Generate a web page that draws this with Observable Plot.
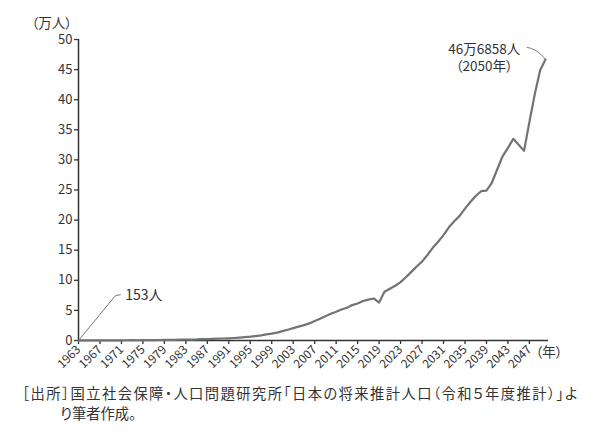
<!DOCTYPE html>
<html><head><meta charset="utf-8">
<script src="https://cdn.jsdelivr.net/npm/d3@7"></script>
<script src="https://cdn.jsdelivr.net/npm/@observablehq/plot@0.6"></script>
<style>
body{margin:0;background:#fff;font-family:"Noto Sans CJK JP",sans-serif;font-feature-settings:"palt";}
#chart{width:600px;}
#chart svg{font-feature-settings:"palt";}
.caption{font-size:14.3px;color:#333;line-height:20px;margin-top:5px;white-space:nowrap}
.caption .l1{padding-left:22px}
.caption .l2{padding-left:60px}
</style></head><body>
<div id="chart"></div>
<div class="caption"><div class="l1"><span id="c1">［出所］国立社会保障・人口問題研究所「日本の将来推計人口（令和５年度推計）」よ</span></div><div class="l2">り筆者作成。</div></div>
<script>
// Years 1963–2050
const years = [1963,1964,1965,1966,1967,1968,1969,1970,1971,1972,1973,1974,1975,1976,1977,1978,1979,1980,1981,1982,1983,1984,1985,1986,1987,1988,1989,1990,1991,1992,1993,1994,1995,1996,1997,1998,1999,2000,2001,2002,2003,2004,2005,2006,2007,2008,2009,2010,2011,2012,2013,2014,2015,2016,2017,2018,2019,2020,2021,2022,2023,2024,2025,2026,2027,2028,2029,2030,2031,2032,2033,2034,2035,2036,2037,2038,2039,2040,2041,2042,2043,2044,2045,2046,2047,2048,2049,2050];
// Centenarians (万人)
const values = [0.015,0.019,0.020,0.025,0.025,0.033,0.035,0.031,0.034,0.041,0.050,0.043,0.055,0.067,0.070,0.080,0.094,0.097,0.107,0.135,0.135,0.157,0.174,0.218,0.227,0.267,0.308,0.330,0.363,0.415,0.480,0.559,0.638,0.737,0.849,1.016,1.135,1.304,1.548,1.793,2.056,2.304,2.555,2.840,3.230,3.628,4.040,4.445,4.776,5.138,5.440,5.882,6.157,6.569,6.782,6.979,6.3,8.1,8.6,9.1,9.7,10.5,11.4,12.3,13.1,14.2,15.4,16.4,17.5,18.8,19.8,20.7,21.9,23.0,24.0,24.8,24.9,26.2,28.4,30.6,32.0,33.5,32.5,31.5,36.3,40.9,44.9,46.69];
const xTicks = [1963,1967,1971,1975,1979,1983,1987,1991,1995,1999,2003,2007,2011,2015,2019,2023,2027,2031,2035,2039,2043,2047];
const yTicks = [0,5,10,15,20,25,30,35,40,45,50];
const yUnit = "（万人）";
const xUnit = "（年）";
const startLabel = "153人";
const endLabel = "46万6858人\n（2050年）";
// annotation anchors (data units)
const startLeader = [{year:1963,value:0},{year:1969.9,value:7.47},{year:1970.8,value:7.6}];
const endLeader = [{year:2046.6,value:48.7},{year:2048.5,value:48.2},{year:2050,value:46.69}];
const startText = [{year:1971.7,value:7.55,label:startLabel}];
const endText = [{year:2038.6,value:47.1,label:endLabel}];

const data = years.map((y,i)=>({year:y,value:values[i]}));
const ink = "#333";
const chart = Plot.plot({
  width:600, height:378,
  marginLeft:78, marginRight:55, marginTop:39, marginBottom:38,
  style:{fontFamily:'"Noto Sans CJK JP", sans-serif', color:ink, background:"#fff", overflow:"visible"},
  x:{domain:[1963,2050], label:null},
  y:{domain:[0,50], label:null},
  marks:[
    Plot.axisY({ticks:yTicks, tickSize:4, tickPadding:2, fontSize:13, stroke:ink, strokeWidth:1.3, label:null}),
    Plot.axisX({ticks:xTicks, tickSize:4, tickPadding:3, tickRotate:-45, fontSize:12, tickFormat:d=>String(d), stroke:ink, strokeWidth:1.3, label:null}),
    Plot.ruleX([1963], {stroke:ink, strokeWidth:1.5}),
    Plot.ruleY([0], {stroke:ink, strokeWidth:1.5, insetRight:-3}),
    Plot.line(data, {x:"year", y:"value", stroke:"#737373", strokeWidth:2.2}),
    Plot.line(startLeader, {x:"year", y:"value", stroke:"#777", strokeWidth:1}),
    Plot.line(endLeader, {x:"year", y:"value", stroke:"#777", strokeWidth:1, curve:"basis"}),
    Plot.text(startText, {x:"year", y:"value", text:"label", textAnchor:"start", fontSize:14, fill:ink}),
    Plot.text(endText, {x:"year", y:"value", text:"label", textAnchor:"middle", fontSize:13.5, lineHeight:1.3, fill:ink}),
    Plot.text([yUnit], {frameAnchor:"top-left", text:d=>d, dx:-47, dy:-21, textAnchor:"start", fontSize:13.5, fill:ink}),
    Plot.text([xUnit], {frameAnchor:"bottom-right", text:d=>d, dx:-10, dy:16, textAnchor:"start", fontSize:13.5, fill:ink})
  ]
});
document.getElementById("chart").appendChild(chart);
// fit caption first line to the reference's width
const c1 = document.getElementById("c1");
const target = 557, w = c1.getBoundingClientRect().width, n = c1.textContent.length;
c1.style.letterSpacing = ((target - w) / n) + "px";
</script>
</body></html>
